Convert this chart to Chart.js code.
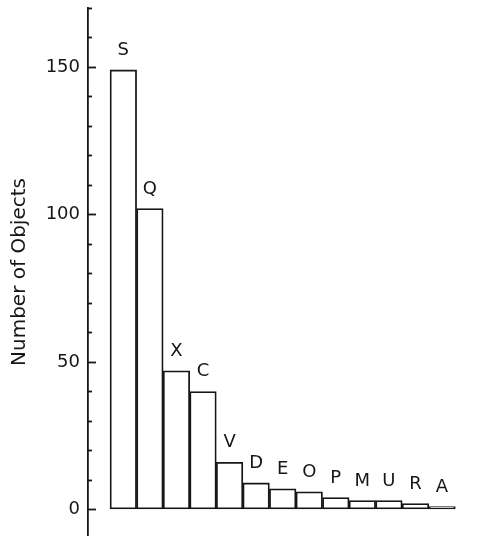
<!DOCTYPE html>
<html>
<head>
<meta charset="utf-8">
<script src="https://cdn.jsdelivr.net/npm/chart.js@4"></script>
<style>
  html, body { margin: 0; padding: 0; background: #fff; overflow: hidden; }
  #wrap { width: 494px; height: 536px; position: relative; }
</style>
</head>
<body>
<div id="wrap"><canvas id="c"></canvas></div>
<script>
const categories = ["S", "Q", "X", "C", "V", "D", "E", "O", "P", "M", "U", "R", "A"];
const counts = [149, 102, 47, 40, 16, 9, 7, 6, 4, 3, 3, 2, 1];
const yTickLabels = [0, 50, 100, 150];
const yTitle = "Number of Objects";

const FONT = "'DejaVu Sans', sans-serif";
const INK = "#161616";

const barLabels = {
  id: 'barLabels',
  afterDatasetsDraw(chart) {
    const ctx = chart.ctx;
    const meta = chart.getDatasetMeta(0);
    ctx.save();
    ctx.fillStyle = INK;
    ctx.font = "18px " + FONT;
    ctx.textAlign = 'center';
    ctx.textBaseline = 'alphabetic';
    meta.data.forEach((bar, i) => {
      ctx.fillText(categories[i], bar.x, bar.y - 15);
    });
    ctx.restore();
  }
};

const inwardTicks = {
  id: 'inwardTicks',
  afterDraw(chart) {
    const ctx = chart.ctx;
    const y = chart.scales.y;
    const x0 = chart.chartArea.left;
    ctx.save();
    ctx.strokeStyle = INK;
    ctx.lineWidth = 1.8;
    y.ticks.forEach(t => {
      const v = t.value;
      if (v < 0 || Math.abs(v % 10) > 1e-6) return;
      const len = yTickLabels.includes(v) ? 8 : 4;
      const py = Math.round(y.getPixelForValue(v)) + 0.5;
      ctx.beginPath();
      ctx.moveTo(x0, py);
      ctx.lineTo(x0 + len, py);
      ctx.stroke();
    });
    ctx.restore();
  }
};

new Chart(document.getElementById('c'), {
  type: 'bar',
  data: {
    datasets: [{
      data: counts.map((v, i) => ({ x: i, y: v })),
      backgroundColor: '#fff',
      borderColor: INK,
      borderWidth: 1.8,
      borderSkipped: false,
      barPercentage: 1.0,
      categoryPercentage: 1.0
    }]
  },
  options: {
    responsive: true,
    maintainAspectRatio: false,
    animation: false,
    events: [],
    layout: { padding: { left: 0, right: 14, top: 8, bottom: 0 } },
    plugins: { legend: { display: false }, tooltip: { enabled: false } },
    scales: {
      x: {
        type: 'linear',
        offset: false,
        min: -1.33,
        max: 13.43,
        display: false
      },
      y: {
        min: -9,
        max: 170,
        afterFit(s) { s.width = 88; s.paddingTop = 0; s.paddingBottom = 0; },
        border: { display: true, color: INK, width: 1.8 },
        grid: { display: true, drawOnChartArea: false, drawTicks: false },
        ticks: {
          stepSize: 10,
          padding: 8,
          color: INK,
          font: { family: FONT, size: 18 },
          callback: (v) => yTickLabels.includes(v) ? String(v) : ''
        },
        title: {
          display: true,
          text: yTitle,
          color: INK,
          font: { family: FONT, size: 20 },
          padding: { top: 8, bottom: 0 }
        }
      }
    }
  },
  plugins: [barLabels, inwardTicks]
});
</script>
</body>
</html>
